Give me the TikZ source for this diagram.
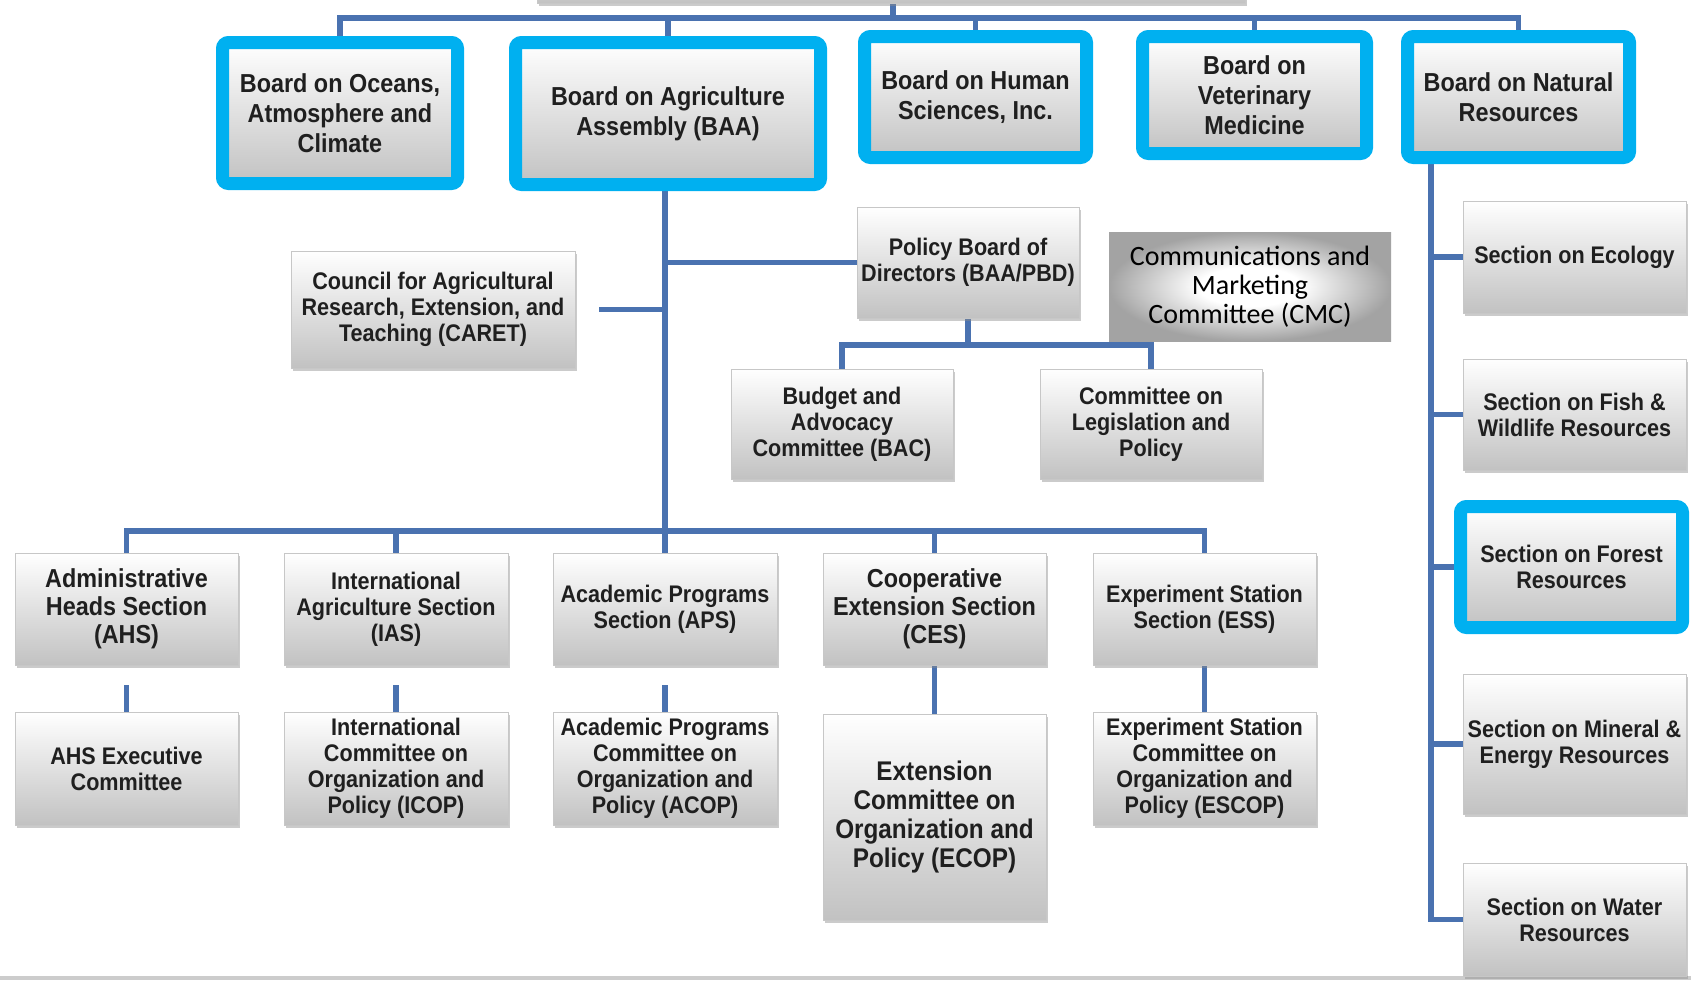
\documentclass[tikz,border=0pt]{standalone}
\usepackage{fontspec}
\newfontfamily\boxfont[FakeStretch=0.9]{Liberation Sans}
\newfontfamily\calfont{Carlito}
\usetikzlibrary{shadows,backgrounds}
\definecolor{linkblue}{RGB}{74,114,176}
\definecolor{boardcyan}{RGB}{0,176,240}
\pgfdeclareradialshading{cmcshade}{\pgfpoint{0bp}{0bp}}{color(0bp)=(white); color(9bp)=(white); color(25bp)=(black!36); color(50bp)=(black!36)}
\begin{document}
\begin{tikzpicture}[x=0.5pt,y=-0.5pt,
	sz/.style 2 args={minimum width={#1*0.5pt},minimum height={#2*0.5pt}},
	box/.style={inner sep=0pt,align=center,top color=white,bottom color=black!24,
		draw=black!22,line width=0.4pt,text=black!88,font=\boxfont\bfseries\fontsize{12}{13}\selectfont,
		drop shadow={shadow xshift=1.2pt,shadow yshift=-1.5pt,fill=black!45,opacity=0.45}},
	board/.style={box,draw=boardcyan,line width=6.5pt,rounded corners=3pt,
		font=\boxfont\bfseries\fontsize{13}{15}\selectfont},
	link/.style={draw=linkblue,line width=2.6pt}]
\useasboundingbox (0,0) rectangle (1691,980);
\fill[black!20] (0,976) rectangle (1691,980);

% top row
\node[box,sz={708}{66}] (top) at (891,-30) {};
\node[board,sz={235}{141}] (oceans) at (340,113) {Board on Oceans,\\Atmosphere and\\Climate};
\node[board,sz={305}{142}] (baa) at (668,113.5) {Board on Agriculture\\Assembly (BAA)};
\node[board,sz={222}{121}] (human) at (975.5,97) {Board on Human\\Sciences, Inc.};
\node[board,sz={224}{117}] (vet) at (1254.5,95) {Board on\\Veterinary\\Medicine};
\node[board,sz={222}{121}] (natural) at (1518.5,97) {Board on Natural\\Resources};

% under the assembly
\node[box,sz={222}{111}] (policy) at (968,262.5) {Policy Board of\\Directors (BAA/PBD)};
\node[box,sz={284}{117}] (caret) at (433,309.5) {Council for Agricultural\\Research, Extension, and\\Teaching (CARET)};
\node[inner sep=0pt,align=center,sz={282}{109},shading=cmcshade,
	font=\calfont\fontsize{14}{14.5}\selectfont] (cmc) at (1250,286.5) {Communications and\\Marketing\\Committee (CMC)};
\node[box,sz={222}{110}] (budget) at (842,424) {Budget and\\Advocacy\\Committee (BAC)};
\node[box,sz={222}{110}] (legis) at (1151,424) {Committee on\\Legislation and\\Policy};

% sections
\node[box,sz={223}{112},font=\boxfont\bfseries\fontsize{13}{14}\selectfont] (ahs) at (126.5,609) {Administrative\\Heads Section\\(AHS)};
\node[box,sz={224}{112}] (ias) at (396,609) {International\\Agriculture Section\\(IAS)};
\node[box,sz={224}{112}] (aps) at (665,609) {Academic Programs\\Section (APS)};
\node[box,sz={223}{112},font=\boxfont\bfseries\fontsize{13}{14}\selectfont] (ces) at (934.5,609) {Cooperative\\Extension Section\\(CES)};
\node[box,sz={223}{112}] (ess) at (1204.5,609) {Experiment Station\\Section (ESS)};

% committees
\node[box,sz={223}{113}] (ahsx) at (126.5,768.5) {AHS Executive\\Committee};
\node[box,sz={224}{113}] (icop) at (396,768.5) {International\\Committee on\\Organization and\\Policy (ICOP)};
\node[box,sz={224}{113}] (acop) at (665,768.5) {Academic Programs\\Committee on\\Organization and\\Policy (ACOP)};
\node[box,sz={223}{206},font=\boxfont\bfseries\fontsize{13.5}{14.5}\selectfont] (ecop) at (934.5,817) {Extension\\Committee on\\Organization and\\Policy (ECOP)};
\node[box,sz={223}{113}] (escop) at (1204.5,768.5) {Experiment Station\\Committee on\\Organization and\\Policy (ESCOP)};

% natural resources column
\node[box,sz={223}{112}] (ecology) at (1574.5,257) {Section on Ecology};
\node[box,sz={223}{111}] (fish) at (1574.5,414.5) {Section on Fish \&\\Wildlife Resources};
\node[board,sz={222}{121},font=\boxfont\bfseries\fontsize{12}{13}\selectfont] (forest) at (1571.5,567) {Section on Forest\\Resources};
\node[box,sz={223}{140}] (mineral) at (1574.5,744) {Section on Mineral \&\\Energy Resources};
\node[box,sz={223}{113}] (water) at (1574.5,919.5) {Section on Water\\Resources};

\begin{scope}[on background layer]
\fill[white] (0,0) rectangle (1691,976);
\coordinate (bus) at (893,18);
\draw[link] (top.south -| bus) -- (bus);
\draw[link] (oceans.north) |- (bus) -| (natural.north);
\foreach \b in {baa,human,vet}
	\draw[link] (\b.north) -- (\b.north |- bus);
% assembly trunk
\coordinate (secbus) at (665,531);
\draw[link] (baa.south -| secbus) -- (secbus);
\draw[link] (policy.west) -- (policy.west -| secbus);
\draw[link,shorten <=12] (caret.east) -- (caret.east -| secbus);
\coordinate (pbus) at (968,345);
\draw[link] (policy.south) -- (pbus);
\draw[link] (budget.north) |- (pbus) -| (legis.north);
\draw[link] (ahs.north) |- (secbus) -| (ess.north);
\foreach \s in {ias,aps,ces}
	\draw[link] (\s.north) -- (\s.north |- secbus);
\foreach \s/\c in {ahs/ahsx,ias/icop,aps/acop}
	\draw[link,shorten <=10] (\s.south) -- (\c.north);
\foreach \s/\c in {ces/ecop,ess/escop}
	\draw[link] (\s.south) -- (\c.north);
% right column
\coordinate (rtrunk) at (1431,164);
\draw[link] (natural.south -| rtrunk) -- (rtrunk |- water.west) -- (water.west);
\foreach \s in {ecology,fish,forest,mineral}
	\draw[link] (rtrunk |- \s.west) -- (\s.west);
\end{scope}
\end{tikzpicture}
\end{document}
